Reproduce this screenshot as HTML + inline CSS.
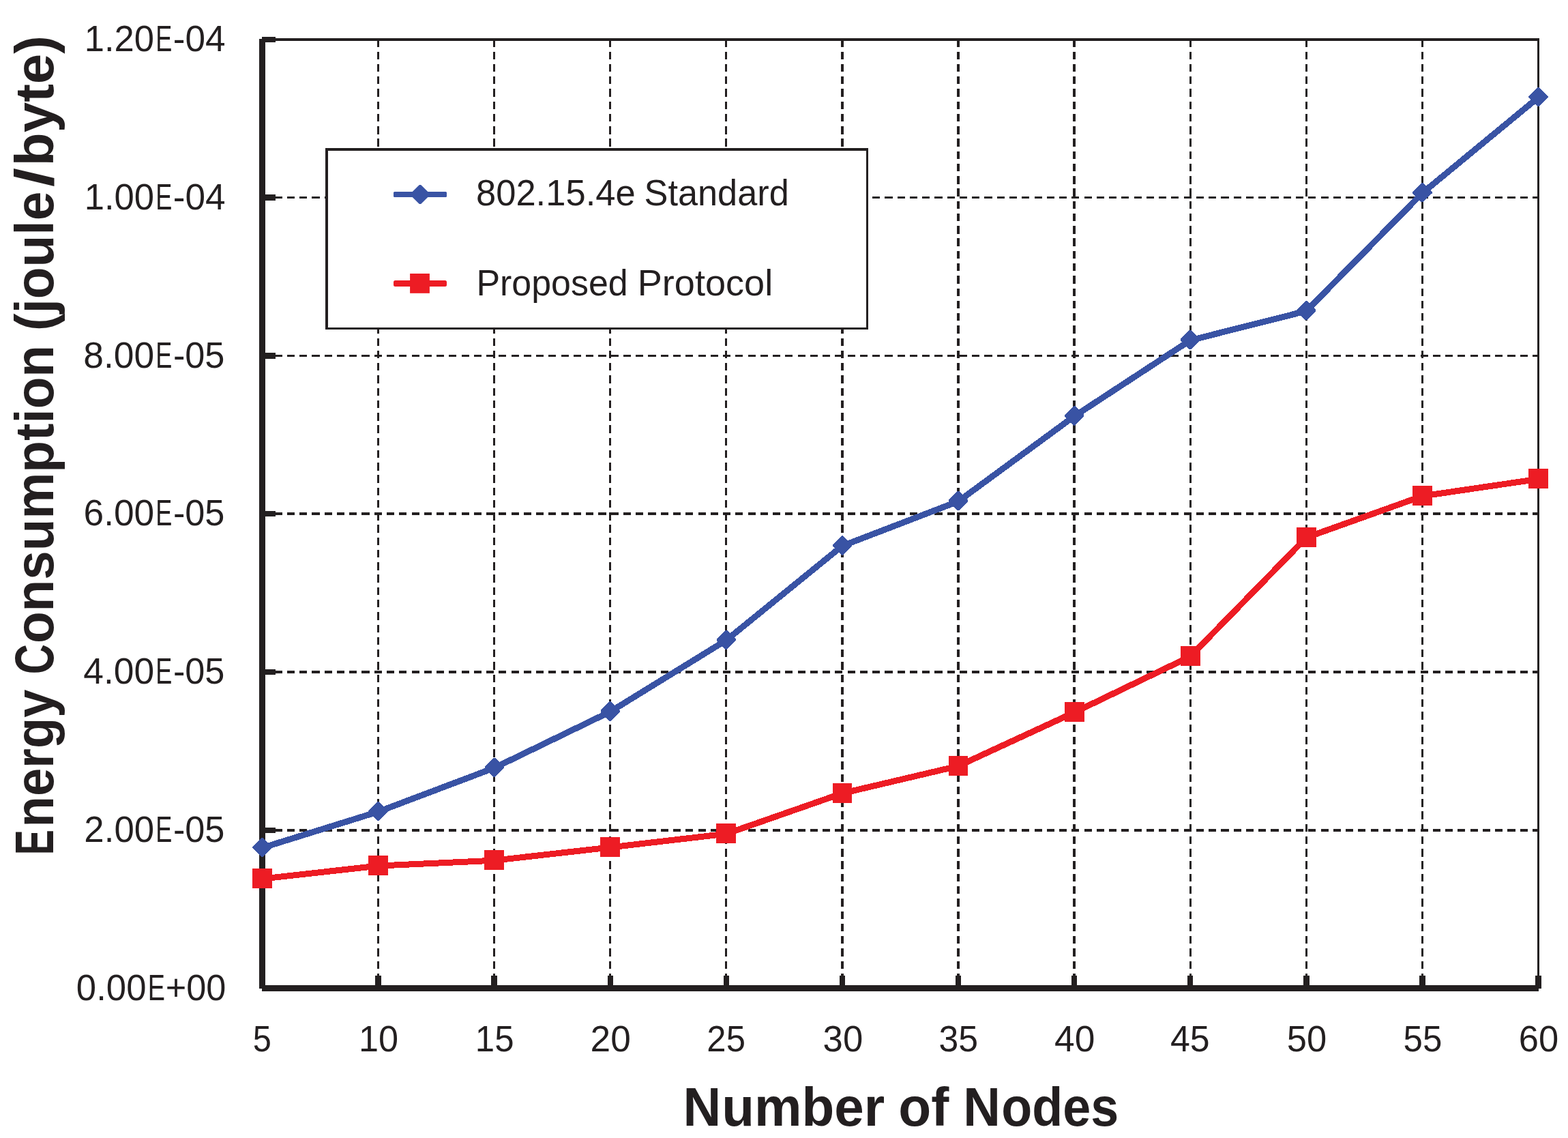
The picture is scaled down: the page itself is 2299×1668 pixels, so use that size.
<!DOCTYPE html>
<html lang="en">
<head>
<meta charset="utf-8">
<title>Energy Consumption</title>
<style>
html,body{margin:0;padding:0;background:#fff;}
body{width:2299px;height:1668px;overflow:hidden;}
svg{display:block;}
text{font-family:"Liberation Sans",sans-serif;fill:#231f20;}
.t{font-size:53px;}
.h{font-size:79.5px;font-weight:bold;}
</style>
</head>
<body>
<svg width="2299" height="1668" viewBox="0 0 2299 1668">
<rect x="0" y="0" width="2299" height="1668" fill="#fff"/>
<g fill="none" stroke="#231f20" stroke-dasharray="11.1 7.16" shape-rendering="crispEdges">
<line x1="554.5" y1="57.8" x2="554.5" y2="1448.6" stroke-width="3.3" stroke-dasharray="11.4 6.86" stroke-dashoffset="0.5"/>
<line x1="724.6" y1="57.8" x2="724.6" y2="1448.6" stroke-width="3.3" stroke-dasharray="11.4 6.86" stroke-dashoffset="0.5"/>
<line x1="894.7" y1="57.8" x2="894.7" y2="1448.6" stroke-width="3.3" stroke-dasharray="11.4 6.86" stroke-dashoffset="0.5"/>
<line x1="1064.8" y1="57.8" x2="1064.8" y2="1448.6" stroke-width="3.3" stroke-dasharray="11.4 6.86" stroke-dashoffset="0.5"/>
<line x1="1234.9" y1="57.8" x2="1234.9" y2="1448.6" stroke-width="3.3" stroke-dasharray="11.4 6.86" stroke-dashoffset="0.5"/>
<line x1="1405" y1="57.8" x2="1405" y2="1448.6" stroke-width="3.3" stroke-dasharray="11.4 6.86" stroke-dashoffset="0.5"/>
<line x1="1575.1" y1="57.8" x2="1575.1" y2="1448.6" stroke-width="3.3" stroke-dasharray="11.4 6.86" stroke-dashoffset="0.5"/>
<line x1="1745.2" y1="57.8" x2="1745.2" y2="1448.6" stroke-width="3.3" stroke-dasharray="11.4 6.86" stroke-dashoffset="0.5"/>
<line x1="1915.3" y1="57.8" x2="1915.3" y2="1448.6" stroke-width="3.3" stroke-dasharray="11.4 6.86" stroke-dashoffset="0.5"/>
<line x1="2085.4" y1="57.8" x2="2085.4" y2="1448.6" stroke-width="3.3" stroke-dasharray="11.4 6.86" stroke-dashoffset="0.5"/>
<line x1="384.4" y1="1216.8" x2="2255.5" y2="1216.8" stroke-width="3.64"/>
<line x1="384.4" y1="985" x2="2255.5" y2="985" stroke-width="3.64"/>
<line x1="384.4" y1="753.2" x2="2255.5" y2="753.2" stroke-width="3.64"/>
<line x1="384.4" y1="521.4" x2="2255.5" y2="521.4" stroke-width="3.64"/>
<line x1="384.4" y1="289.6" x2="2255.5" y2="289.6" stroke-width="3.64"/>
</g>
<g fill="none" stroke="#231f20" shape-rendering="crispEdges">
<line x1="384.4" y1="57.8" x2="2257.1" y2="57.8" stroke-width="3.9"/>
<line x1="2255.5" y1="57.8" x2="2255.5" y2="1448.6" stroke-width="3.2"/>
<line x1="384.4" y1="57.2" x2="384.4" y2="1448.6" stroke-width="8.6"/>
<line x1="384.1" y1="1448.6" x2="2256" y2="1448.6" stroke-width="8.6"/>
<line x1="384.4" y1="1216.8" x2="403.7" y2="1216.8" stroke-width="8.4"/>
<line x1="384.4" y1="985" x2="403.7" y2="985" stroke-width="8.4"/>
<line x1="384.4" y1="753.2" x2="403.7" y2="753.2" stroke-width="8.4"/>
<line x1="384.4" y1="521.4" x2="403.7" y2="521.4" stroke-width="8.4"/>
<line x1="384.4" y1="289.6" x2="403.7" y2="289.6" stroke-width="8.4"/>
<line x1="384.4" y1="57.8" x2="403.7" y2="57.8" stroke-width="8.4"/>
<line x1="554.5" y1="1448.6" x2="554.5" y2="1430" stroke-width="8.4"/>
<line x1="724.6" y1="1448.6" x2="724.6" y2="1430" stroke-width="8.4"/>
<line x1="894.7" y1="1448.6" x2="894.7" y2="1430" stroke-width="8.4"/>
<line x1="1064.8" y1="1448.6" x2="1064.8" y2="1430" stroke-width="8.4"/>
<line x1="1234.9" y1="1448.6" x2="1234.9" y2="1430" stroke-width="8.4"/>
<line x1="1405" y1="1448.6" x2="1405" y2="1430" stroke-width="8.4"/>
<line x1="1575.1" y1="1448.6" x2="1575.1" y2="1430" stroke-width="8.4"/>
<line x1="1745.2" y1="1448.6" x2="1745.2" y2="1430" stroke-width="8.4"/>
<line x1="1915.3" y1="1448.6" x2="1915.3" y2="1430" stroke-width="8.4"/>
<line x1="2085.4" y1="1448.6" x2="2085.4" y2="1430" stroke-width="8.4"/>
<line x1="2255.5" y1="1448.6" x2="2255.5" y2="1430" stroke-width="8.4"/>
</g>
<g shape-rendering="crispEdges"><rect x="477" y="217" width="796" height="266" fill="#231f20"/><rect x="481" y="221" width="789" height="259" fill="#fff"/></g>
<polyline points="384.4,1242.7 554.5,1189.8 724.6,1125.6 894.7,1043.2 1064.8,938.4 1234.9,800.2 1405,734.9 1575.1,610.1 1745.2,498.8 1915.3,455.9 2085.4,283 2255.5,142.8" fill="none" stroke="#3953a4" stroke-width="9" stroke-linejoin="round" stroke-linecap="round" shape-rendering="crispEdges"/>
<g fill="#3953a4" shape-rendering="crispEdges">
<path d="M383.2 1227.9L385.6 1227.9L398.5 1240.8L398.5 1243.2L385.6 1256.1L383.2 1256.1L370.3 1243.2L370.3 1240.8Z"/>
<path d="M553.3 1175L555.7 1175L568.6 1187.9L568.6 1190.3L555.7 1203.2L553.3 1203.2L540.4 1190.3L540.4 1187.9Z"/>
<path d="M723.4 1110.8L725.8 1110.8L738.7 1123.7L738.7 1126.1L725.8 1139L723.4 1139L710.5 1126.1L710.5 1123.7Z"/>
<path d="M893.5 1028.4L895.9 1028.4L908.8 1041.3L908.8 1043.7L895.9 1056.6L893.5 1056.6L880.6 1043.7L880.6 1041.3Z"/>
<path d="M1063.6 923.6L1066 923.6L1078.9 936.5L1078.9 938.9L1066 951.8L1063.6 951.8L1050.7 938.9L1050.7 936.5Z"/>
<path d="M1233.7 785.4L1236.1 785.4L1249 798.3L1249 800.7L1236.1 813.6L1233.7 813.6L1220.8 800.7L1220.8 798.3Z"/>
<path d="M1403.8 720.1L1406.2 720.1L1419.1 733L1419.1 735.4L1406.2 748.3L1403.8 748.3L1390.9 735.4L1390.9 733Z"/>
<path d="M1573.9 595.3L1576.3 595.3L1589.2 608.2L1589.2 610.6L1576.3 623.5L1573.9 623.5L1561 610.6L1561 608.2Z"/>
<path d="M1744 484L1746.4 484L1759.3 496.9L1759.3 499.3L1746.4 512.2L1744 512.2L1731.1 499.3L1731.1 496.9Z"/>
<path d="M1914.1 441.1L1916.5 441.1L1929.4 454L1929.4 456.4L1916.5 469.3L1914.1 469.3L1901.2 456.4L1901.2 454Z"/>
<path d="M2084.2 268.2L2086.6 268.2L2099.5 281.1L2099.5 283.5L2086.6 296.4L2084.2 296.4L2071.3 283.5L2071.3 281.1Z"/>
<path d="M2254.3 128L2256.7 128L2269.6 140.9L2269.6 143.3L2256.7 156.2L2254.3 156.2L2241.4 143.3L2241.4 140.9Z"/>
</g>
<polyline points="384.4,1288.1 554.5,1269.1 724.6,1261.2 894.7,1242 1064.8,1222.2 1234.9,1162.8 1405,1122.8 1575.1,1044.2 1745.2,962.2 1915.3,787.9 2085.4,727.1 2255.5,702.2" fill="none" stroke="#ed1c24" stroke-width="9" stroke-linejoin="round" stroke-linecap="round" shape-rendering="crispEdges"/>
<g fill="#ed1c24" shape-rendering="crispEdges">
<rect x="370" y="1273" width="28.8" height="28.8"/>
<rect x="540.1" y="1254" width="28.8" height="28.8"/>
<rect x="710.2" y="1246.1" width="28.8" height="28.8"/>
<rect x="880.3" y="1226.9" width="28.8" height="28.8"/>
<rect x="1050.4" y="1207.1" width="28.8" height="28.8"/>
<rect x="1220.5" y="1147.7" width="28.8" height="28.8"/>
<rect x="1390.6" y="1107.7" width="28.8" height="28.8"/>
<rect x="1560.7" y="1029.1" width="28.8" height="28.8"/>
<rect x="1730.8" y="947.1" width="28.8" height="28.8"/>
<rect x="1900.9" y="772.8" width="28.8" height="28.8"/>
<rect x="2071" y="712" width="28.8" height="28.8"/>
<rect x="2241.1" y="687.1" width="28.8" height="28.8"/>
</g>
<g fill="#3953a4"><rect x="577" y="281" width="78" height="8" rx="1.5"/>
<path d="M614.8 270.9L617.2 270.9L630.1 283.8L630.1 286.2L617.2 299.1L614.8 299.1L601.9 286.2L601.9 283.8Z"/>
</g>
<g fill="#ed1c24"><rect x="577" y="411" width="78" height="9" rx="2.5"/>
<rect x="601.1" y="401" width="28.8" height="28.8"/>
</g>
<text class="t" y="300.7"><tspan x="697.97" textLength="233.71" lengthAdjust="spacingAndGlyphs">802.15.4e</tspan> <tspan x="944.53" textLength="212.28" lengthAdjust="spacingAndGlyphs">Standard</tspan></text>
<text class="t" y="432.8"><tspan x="698.44" textLength="222.29" lengthAdjust="spacingAndGlyphs">Proposed</tspan> <tspan x="934.76" textLength="198.4" lengthAdjust="spacingAndGlyphs">Protocol</tspan></text>
<text class="t" y="1465.8"><tspan x="111.86" textLength="102.58" lengthAdjust="spacingAndGlyphs">0.00</tspan><tspan x="216.77" textLength="25.21" lengthAdjust="spacingAndGlyphs">E</tspan><tspan x="242.63" textLength="88.69" lengthAdjust="spacingAndGlyphs">+00</tspan></text>
<text class="t" y="1234"><tspan x="123.36" textLength="102.79" lengthAdjust="spacingAndGlyphs">2.00</tspan><tspan x="228.3" textLength="24.11" lengthAdjust="spacingAndGlyphs">E</tspan><tspan x="253.88" textLength="75.55" lengthAdjust="spacingAndGlyphs">-05</tspan></text>
<text class="t" y="1002.2"><tspan x="122.34" textLength="103.83" lengthAdjust="spacingAndGlyphs">4.00</tspan><tspan x="228.3" textLength="24.11" lengthAdjust="spacingAndGlyphs">E</tspan><tspan x="253.88" textLength="75.55" lengthAdjust="spacingAndGlyphs">-05</tspan></text>
<text class="t" y="770.4"><tspan x="122.54" textLength="103.63" lengthAdjust="spacingAndGlyphs">6.00</tspan><tspan x="228.3" textLength="24.11" lengthAdjust="spacingAndGlyphs">E</tspan><tspan x="253.88" textLength="75.55" lengthAdjust="spacingAndGlyphs">-05</tspan></text>
<text class="t" y="538.6"><tspan x="122.34" textLength="103.84" lengthAdjust="spacingAndGlyphs">8.00</tspan><tspan x="228.3" textLength="24.11" lengthAdjust="spacingAndGlyphs">E</tspan><tspan x="253.88" textLength="75.55" lengthAdjust="spacingAndGlyphs">-05</tspan></text>
<text class="t" y="306.8"><tspan x="123.73" textLength="102.41" lengthAdjust="spacingAndGlyphs">1.00</tspan><tspan x="228.3" textLength="24.11" lengthAdjust="spacingAndGlyphs">E</tspan><tspan x="253.84" textLength="76.87" lengthAdjust="spacingAndGlyphs">-04</tspan></text>
<text class="t" y="75"><tspan x="123.73" textLength="102.31" lengthAdjust="spacingAndGlyphs">1.20</tspan><tspan x="228.3" textLength="24.11" lengthAdjust="spacingAndGlyphs">E</tspan><tspan x="253.84" textLength="76.87" lengthAdjust="spacingAndGlyphs">-04</tspan></text>
<text class="t" y="1541.1"><tspan x="370.83" textLength="27.13" lengthAdjust="spacingAndGlyphs">5</tspan></text>
<text class="t" y="1541.1"><tspan x="525.95" textLength="58.17" lengthAdjust="spacingAndGlyphs">10</tspan></text>
<text class="t" y="1541.1"><tspan x="696.75" textLength="56.77" lengthAdjust="spacingAndGlyphs">15</tspan></text>
<text class="t" y="1541.1"><tspan x="865.64" textLength="59.22" lengthAdjust="spacingAndGlyphs">20</tspan></text>
<text class="t" y="1541.1"><tspan x="1036.36" textLength="56.55" lengthAdjust="spacingAndGlyphs">25</tspan></text>
<text class="t" y="1541.1"><tspan x="1206.61" textLength="58.63" lengthAdjust="spacingAndGlyphs">30</tspan></text>
<text class="t" y="1541.1"><tspan x="1376.55" textLength="57.61" lengthAdjust="spacingAndGlyphs">35</tspan></text>
<text class="t" y="1541.1"><tspan x="1546.04" textLength="59.32" lengthAdjust="spacingAndGlyphs">40</tspan></text>
<text class="t" y="1541.1"><tspan x="1715.88" textLength="57.68" lengthAdjust="spacingAndGlyphs">45</tspan></text>
<text class="t" y="1541.1"><tspan x="1886.87" textLength="58.36" lengthAdjust="spacingAndGlyphs">50</tspan></text>
<text class="t" y="1541.1"><tspan x="2057.53" textLength="56.79" lengthAdjust="spacingAndGlyphs">55</tspan></text>
<text class="t" y="1541.1"><tspan x="2226.78" textLength="58.36" lengthAdjust="spacingAndGlyphs">60</tspan></text>
<text class="h" y="1649.6"><tspan x="1001.6" textLength="55.76" lengthAdjust="spacingAndGlyphs">N</tspan><tspan x="1058.28" textLength="238.91" lengthAdjust="spacingAndGlyphs">umber</tspan> <tspan x="1317.24" textLength="74.06" lengthAdjust="spacingAndGlyphs">of</tspan> <tspan x="1412.2" textLength="54.66" lengthAdjust="spacingAndGlyphs">N</tspan><tspan x="1468.22" textLength="171.95" lengthAdjust="spacingAndGlyphs">odes</tspan></text>
<text class="h" transform="translate(77.9 0) rotate(-90)"><tspan x="-1253.17" textLength="37.09" lengthAdjust="spacingAndGlyphs">E</tspan><tspan x="-1212.4" textLength="201.86" lengthAdjust="spacingAndGlyphs">nergy</tspan> <tspan x="-988.21" textLength="44.28" lengthAdjust="spacingAndGlyphs">C</tspan><tspan x="-943.08" textLength="437.04" lengthAdjust="spacingAndGlyphs">onsumption</tspan> <tspan x="-485.06" textLength="204.41" lengthAdjust="spacingAndGlyphs">(joule</tspan><tspan x="-273.95" textLength="28.02" lengthAdjust="spacingAndGlyphs">/</tspan><tspan x="-243.18" textLength="191.06" lengthAdjust="spacingAndGlyphs">byte)</tspan></text>
</svg>
</body>
</html>
